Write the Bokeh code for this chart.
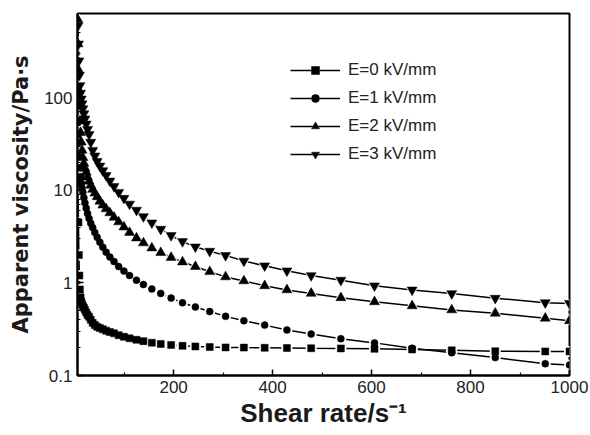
from bokeh.plotting import figure
from bokeh.models import Range1d, FixedTicker, Legend, LegendItem, ColumnDataSource
from bokeh.embed import file_html
from bokeh.resources import INLINE

# Shear rate (1/s)
shear = [6.2, 6.9, 7.7, 8.6, 9.6, 10.7, 12.0, 13.4, 15.0, 16.7, 18.7, 20.9, 23.4, 26.1,
         29.2, 32.6, 36.5, 40.8, 45.6, 51.0, 57.0, 63.7, 71.2, 79.6, 89.0, 99.6, 111,
         125, 139, 156, 174, 195, 218, 244, 273, 305, 342, 384, 429, 478, 538, 606,
         682, 762, 850, 951, 1000]

# Apparent viscosity (Pa.s)
visc_e0 = [40, 12, 4.5, 2.0, 1.2, 0.85, 0.7, 0.63, 0.59, 0.56, 0.54, 0.51, 0.48, 0.45,
           0.43, 0.4, 0.37, 0.35, 0.335, 0.325, 0.315, 0.305, 0.295, 0.285, 0.272, 0.262,
           0.252, 0.243, 0.235, 0.226, 0.219, 0.214, 0.209, 0.206, 0.203, 0.201, 0.2,
           0.199, 0.198, 0.197, 0.196, 0.194, 0.191, 0.187, 0.183, 0.182, 0.182]
visc_e1 = [250, 110, 55, 33, 23, 17.5, 14, 12, 10.6, 9.5, 8.3, 7.3, 6.4, 5.6, 4.95, 4.4,
           3.95, 3.5, 3.1, 2.75, 2.43, 2.14, 1.9, 1.7, 1.5, 1.34, 1.2, 1.07, 0.96, 0.86,
           0.77, 0.685, 0.61, 0.55, 0.49, 0.435, 0.39, 0.35, 0.31, 0.28, 0.25, 0.225,
           0.197, 0.176, 0.156, 0.134, 0.13]
visc_e2 = [700, 380, 200, 120, 80, 56, 42, 33, 27, 22.5, 19.5, 17.2, 15.6, 13.9, 12.5,
           11.3, 10.2, 9.3, 8.5, 7.6, 6.9, 6.3, 5.7, 5.1, 4.55, 4.0, 3.5, 3.05, 2.7, 2.38,
           2.12, 1.88, 1.68, 1.5, 1.32, 1.16, 1.05, 0.93, 0.84, 0.77, 0.69, 0.625, 0.565,
           0.51, 0.47, 0.415, 0.39]
visc_e3 = [900, 600, 380, 250, 175, 135, 112, 97, 86, 76, 67, 59, 52, 45.5, 40, 33, 27,
           23.5, 20.5, 18.3, 16.3, 14.5, 12.6, 11.0, 9.5, 8.2, 7.1, 6.1, 5.2, 4.45, 3.8,
           3.25, 2.8, 2.45, 2.2, 1.98, 1.72, 1.53, 1.35, 1.2, 1.07, 0.93, 0.84, 0.766,
           0.683, 0.612, 0.6]

labels = ["E=0 kV/mm", "E=1 kV/mm", "E=2 kV/mm", "E=3 kV/mm"]
series = [visc_e0, visc_e1, visc_e2, visc_e3]
markers = ["square", "circle", "triangle", "inverted_triangle"]
msizes = [7, 7, 10, 10]

x_ticks = [200, 400, 600, 800, 1000]
x_minor = [100, 300, 500, 700, 900]
y_ticks = [0.1, 1, 10, 100]
y_minor = [m * d for d in (0.1, 1, 10, 100) for m in range(2, 10)]

FONT = "Liberation Sans"

p = figure(width=590, height=435, y_axis_type="log",
           x_range=Range1d(5.8, 1000), y_range=Range1d(0.1, 810),
           output_backend="svg", toolbar_location=None,
           min_border_left=77, min_border_right=21, min_border_top=13,
           min_border_bottom=60)

p.grid.visible = False
p.outline_line_color = "black"
p.outline_line_width = 2
p.background_fill_color = "white"
p.border_fill_color = "white"

xa = p.xaxis[0]
xa.ticker = FixedTicker(ticks=x_ticks, minor_ticks=x_minor)
ya = p.yaxis[0]
ya.ticker = FixedTicker(ticks=y_ticks, minor_ticks=y_minor)
ya.major_label_overrides = {0.1: "0.1", 1: "1", 10: "10", 100: "100"}

for ax in (xa, ya):
    ax.axis_line_width = 2
    ax.axis_line_color = "black"
    ax.major_tick_in = 6
    ax.major_tick_out = 0
    ax.minor_tick_in = 3
    ax.minor_tick_out = 0
    ax.major_tick_line_width = 1.5
    ax.minor_tick_line_width = 1.2
    ax.major_label_text_font = FONT
    ax.major_label_text_font_size = "17px"
    ax.major_label_text_color = "#222222"
    ax.major_label_standoff = 5
    ax.axis_label_text_font = FONT
    ax.axis_label_text_font_style = "bold"
    ax.axis_label_text_color = "#1a1a1a"

xa.axis_label = "Shear rate/s\u207b\u00b9"
xa.axis_label_text_font_size = "26px"
xa.axis_label_standoff = 2
ya.axis_label = "Apparent viscosity/Pa\u00b7s"
ya.axis_label_text_font = "DejaVu Sans"
ya.axis_label_text_font_size = "21px"
ya.axis_label_standoff = 8

sources = [ColumnDataSource(dict(x=shear, y=v)) for v in series]

lines = [p.line("x", "y", source=s, line_color="black", line_width=1.5) for s in sources]
halos = [p.scatter("x", "y", source=s, marker=m, size=sz + 4, fill_color="white",
                   line_color=None)
         for s, m, sz in zip(sources, markers, msizes)]
marks = [p.scatter("x", "y", source=s, marker=m, size=sz, fill_color="black",
                   line_color="black", line_width=0.5)
         for s, m, sz in zip(sources, markers, msizes)]

items = [LegendItem(label=lab, renderers=[l, h, mk])
         for lab, l, h, mk in zip(labels, lines, halos, marks)]
legend = Legend(items=items, location=(213, 211), orientation="vertical",
                background_fill_alpha=0, border_line_color=None, padding=0, margin=0,
                spacing=8, label_height=20, glyph_height=20, glyph_width=50,
                label_standoff=8, label_text_font=FONT, label_text_font_size="17px",
                label_text_color="#222222")
p.add_layout(legend)

open("out.html", "w").write(file_html(p, INLINE))
